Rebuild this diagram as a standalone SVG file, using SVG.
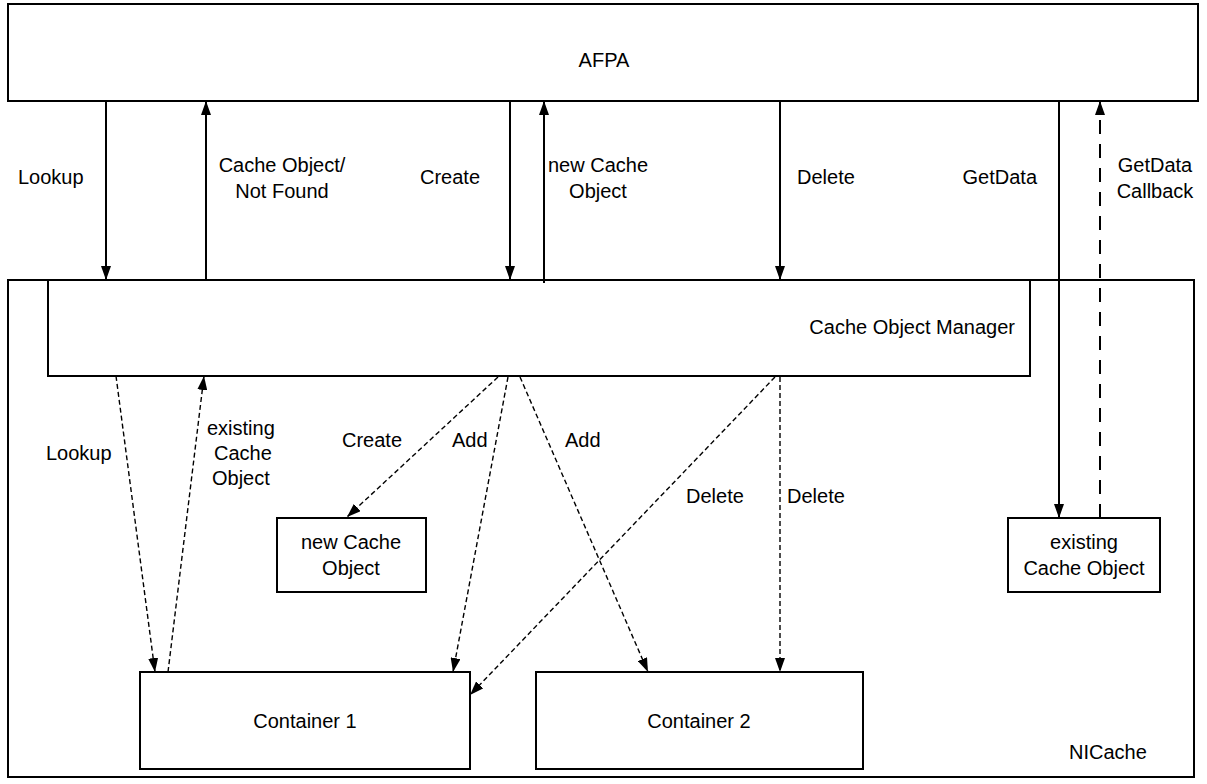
<svg xmlns="http://www.w3.org/2000/svg" width="1207" height="784" viewBox="0 0 1207 784">
  <style>
    .box { fill: #ffffff; stroke: #000000; stroke-width: 2; }
    .frame { fill: none; stroke: #000000; stroke-width: 2; }
    .lbl { font-family: "Liberation Sans", Arial, sans-serif; font-size: 20px; fill: #000000; }
    .mid { text-anchor: middle; }
    .end { text-anchor: end; }
    .solid { stroke: #000000; stroke-width: 2; fill: none; }
    .dash { stroke: #000000; stroke-width: 1.4; fill: none; stroke-dasharray: 5 3; }
    .longdash { stroke: #000000; stroke-width: 2; fill: none; stroke-dasharray: 14 10; }
  </style>
  <defs>
    <marker id="head" markerUnits="userSpaceOnUse" markerWidth="14" markerHeight="10" refX="14" refY="5" orient="auto">
      <path d="M0,0 L14,5 L0,10 z" fill="#000000"/>
    </marker>
  </defs>

  <rect width="1207" height="784" fill="#ffffff"/>

  <!-- outer NICache frame -->
  <g id="nicache">
    <rect class="frame" x="8" y="280" width="1186" height="497"/>
    <text class="lbl" x="1069" y="759">NICache</text>
  </g>

  <g id="afpa">
    <rect class="box" x="8" y="4" width="1190" height="97"/>
    <text class="lbl mid" x="604" y="67">AFPA</text>
  </g>

  <g id="cache-object-manager">
    <rect class="box" x="48" y="280" width="982" height="96"/>
    <text class="lbl end" x="1015" y="334">Cache Object Manager</text>
  </g>

  <g id="new-cache-object">
    <rect class="box" x="277" y="518" width="149" height="74"/>
    <text class="lbl mid" x="351" y="549">new Cache</text>
    <text class="lbl mid" x="351" y="575">Object</text>
  </g>

  <g id="existing-cache-object">
    <rect class="box" x="1008" y="518" width="152" height="74"/>
    <text class="lbl mid" x="1084" y="549">existing</text>
    <text class="lbl mid" x="1084" y="575">Cache Object</text>
  </g>

  <g id="container-1">
    <rect class="box" x="140" y="672" width="330" height="97"/>
    <text class="lbl mid" x="305" y="728">Container 1</text>
  </g>

  <g id="container-2">
    <rect class="box" x="536" y="672" width="327" height="97"/>
    <text class="lbl mid" x="699" y="728">Container 2</text>
  </g>

  <g id="connectors">
    <!-- AFPA <-> Cache Object Manager -->
    <line class="solid" x1="106" y1="101" x2="106" y2="280" marker-end="url(#head)"/>
    <line class="solid" x1="206" y1="280" x2="206" y2="101" marker-end="url(#head)"/>
    <line class="solid" x1="510" y1="101" x2="510" y2="280" marker-end="url(#head)"/>
    <line class="solid" x1="544" y1="283" x2="544" y2="101" marker-end="url(#head)"/>
    <line class="solid" x1="780" y1="101" x2="780" y2="280" marker-end="url(#head)"/>
    <!-- AFPA <-> existing Cache Object -->
    <line class="solid" x1="1059" y1="101" x2="1059" y2="518" marker-end="url(#head)"/>
    <line class="longdash" x1="1100" y1="518" x2="1100" y2="101" marker-end="url(#head)"/>

    <!-- Cache Object Manager <-> cache internals -->
    <line class="dash" x1="116" y1="376" x2="155" y2="672" marker-end="url(#head)"/>
    <line class="dash" x1="168" y1="672" x2="204" y2="376" marker-end="url(#head)"/>
    <line class="dash" x1="498" y1="377" x2="347" y2="517" marker-end="url(#head)"/>
    <line class="dash" x1="508" y1="377" x2="453" y2="672" marker-end="url(#head)"/>
    <line class="dash" x1="520" y1="377" x2="648" y2="672" marker-end="url(#head)"/>
    <line class="dash" x1="775" y1="377" x2="470" y2="695" marker-end="url(#head)"/>
    <line class="dash" x1="780" y1="377" x2="780" y2="672" marker-end="url(#head)"/>

    <!-- labels on connectors -->
    <text class="lbl" x="18" y="184">Lookup</text>
    <text class="lbl mid" x="282" y="172">Cache Object/</text>
    <text class="lbl mid" x="282" y="198">Not Found</text>
    <text class="lbl" x="420" y="184">Create</text>
    <text class="lbl mid" x="598" y="172">new Cache</text>
    <text class="lbl mid" x="598" y="198">Object</text>
    <text class="lbl" x="797" y="184">Delete</text>
    <text class="lbl end" x="1037" y="184">GetData</text>
    <text class="lbl mid" x="1155" y="172">GetData</text>
    <text class="lbl mid" x="1155" y="198">Callback</text>

    <text class="lbl" x="46" y="460">Lookup</text>
    <text class="lbl" x="207" y="435">existing</text>
    <text class="lbl" x="214" y="460">Cache</text>
    <text class="lbl" x="212" y="485">Object</text>
    <text class="lbl" x="342" y="447">Create</text>
    <text class="lbl" x="452" y="447">Add</text>
    <text class="lbl" x="565" y="447">Add</text>
    <text class="lbl" x="686" y="503">Delete</text>
    <text class="lbl" x="787" y="503">Delete</text>
  </g>
</svg>
